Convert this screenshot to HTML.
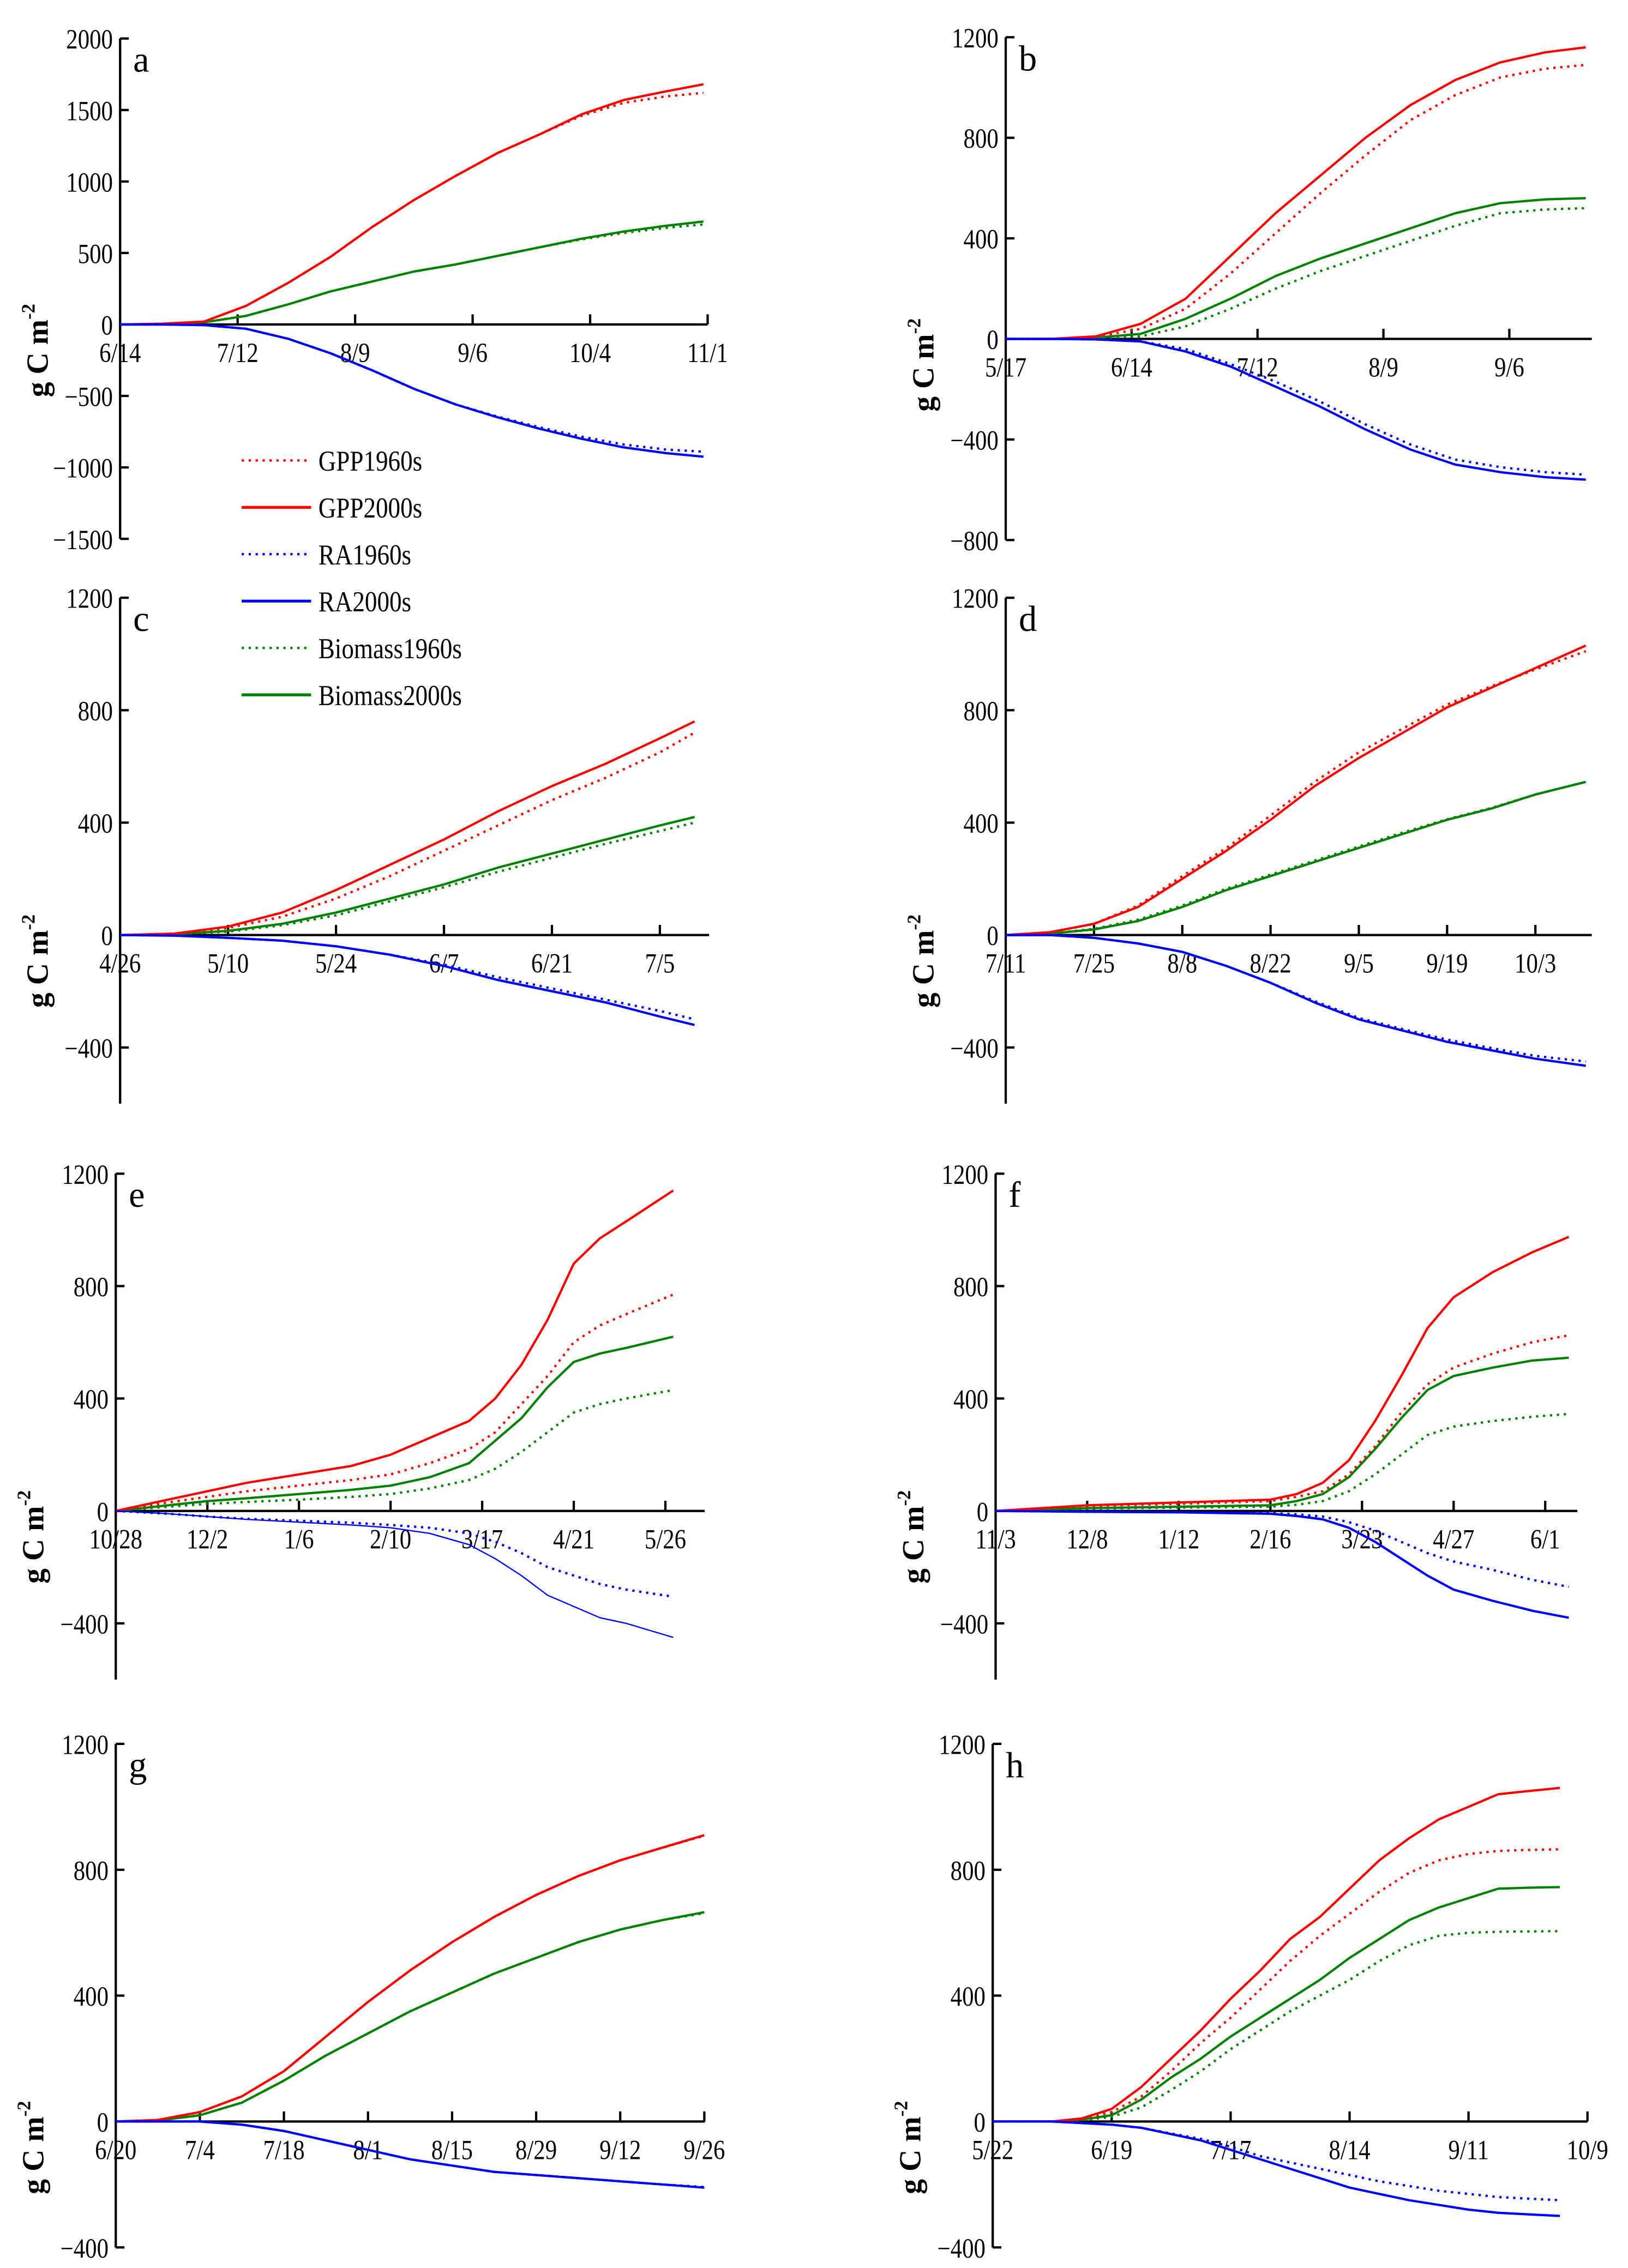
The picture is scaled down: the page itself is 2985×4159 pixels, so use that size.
<!DOCTYPE html>
<html><head><meta charset="utf-8">
<style>
html,body{margin:0;padding:0;background:#fff;}
svg{display:block;}
text{font-family:"Liberation Serif",serif;fill:#000;}
</style></head>
<body>
<svg id="fig" width="2985" height="4159" viewBox="0 0 1125 1567" xmlns="http://www.w3.org/2000/svg"></svg>
<script>
// ---- data (x = days since first date, y = g C m-2) ----
const aX=[0,10,20,30,40,50,60,70,80,90,100,110,120,130,139];
const aGPP2000=[0,5,20,130,290,470,680,870,1040,1200,1330,1470,1570,1630,1680];
const aGPP1960=[0,5,20,130,290,470,680,870,1040,1200,1330,1460,1550,1595,1620];
const aBio2000=[0,3,15,60,140,230,300,370,420,480,540,600,650,690,720];
const aBio1960=[0,3,15,60,140,230,300,370,420,480,540,595,640,675,700];
const aRA2000=[0,0,-5,-30,-100,-200,-320,-450,-560,-650,-730,-800,-860,-900,-925];
const aRA1960=[0,0,-5,-30,-100,-200,-320,-450,-560,-645,-720,-785,-840,-875,-890];

const bX=[0,10,20,30,40,50,60,70,80,90,100,110,120,129];
const bGPP2000=[0,0,10,60,160,330,500,650,800,930,1030,1100,1140,1160];
const bGPP1960=[0,0,8,40,120,260,420,580,730,870,970,1040,1075,1090];
const bBio2000=[0,0,5,20,80,160,250,320,380,440,500,540,555,560];
const bBio1960=[0,0,3,10,50,120,200,270,330,390,450,500,515,520];
const bRA2000=[0,0,-2,-10,-50,-110,-190,-270,-360,-440,-500,-530,-550,-560];
const bRA1960=[0,0,-2,-10,-40,-100,-170,-250,-340,-420,-480,-510,-530,-540];

const cX=[0,7,14,21,28,35,42,49,56,63,70,74.5];
const cGPP2000=[0,5,30,80,160,250,340,440,530,610,700,760];
const cGPP1960=[0,5,25,65,130,210,300,390,480,560,650,720];
const cBio2000=[0,3,15,40,80,130,180,240,290,340,390,420];
const cBio1960=[0,3,12,35,70,120,170,225,275,325,370,400];
const cRA2000=[0,-2,-10,-20,-40,-70,-110,-160,-200,-240,-290,-320];
const cRA1960=[0,-2,-10,-20,-40,-70,-105,-150,-190,-230,-270,-300];

const dX=[0,7,14,21,28,35,42,49,56,63,70,77,84,92];
const dGPP2000=[0,10,40,100,200,300,410,530,630,720,810,880,950,1030];
const dGPP1960=[0,10,40,105,210,310,425,545,650,735,820,885,945,1010];
const dBio2000=[0,5,20,50,100,160,210,260,310,360,410,450,500,545];
const dBio1960=[0,5,22,55,105,165,215,265,315,365,412,452,500,545];
const dRA2000=[0,0,-10,-30,-60,-110,-170,-240,-300,-340,-380,-410,-440,-465];
const dRA1960=[0,0,-10,-30,-60,-110,-170,-235,-295,-335,-372,-402,-430,-450];

const eX=[0,20,35,50,70,90,105,120,135,145,155,165,175,185,195,213];
const eGPP2000=[0,40,70,100,130,160,200,260,320,400,520,680,880,970,1030,1140];
const eGPP1960=[0,30,50,70,90,110,130,170,220,280,380,480,600,660,700,770];
const eBio2000=[0,20,35,45,60,75,90,120,170,250,330,440,530,560,580,620];
const eBio1960=[0,15,25,32,40,50,60,80,110,150,210,280,350,380,400,430];
const eRA2000=[0,-10,-20,-30,-40,-50,-60,-80,-120,-170,-230,-300,-340,-380,-400,-450];
const eRA1960=[0,-10,-20,-28,-35,-42,-50,-60,-80,-110,-150,-200,-230,-260,-280,-305];

const fX=[0,35,70,105,115,125,135,145,155,165,175,190,205,219];
const fGPP2000=[0,20,30,40,60,100,180,320,480,650,760,850,920,975];
const fGPP1960=[0,18,25,35,50,70,130,230,350,450,510,560,600,625];
const fBio2000=[0,10,15,20,35,60,120,220,330,430,480,510,535,545];
const fBio1960=[0,8,12,15,22,35,70,130,200,270,300,320,335,345];
const fRA2000=[0,-3,-5,-10,-18,-30,-60,-110,-170,-230,-280,-320,-355,-380];
const fRA1960=[0,-3,-5,-8,-12,-20,-40,-70,-110,-150,-180,-210,-245,-270];

const gX=[0,7,14,21,28,35,42,49,56,63,70,77,84,91,98];
const gGPP2000=[0,5,30,80,160,270,380,480,570,650,720,780,830,870,910];
const gGPP1960=[0,5,30,80,160,270,380,480,570,650,720,780,830,870,908];
const gBio2000=[0,3,20,60,130,210,280,350,410,470,520,570,610,640,665];
const gBio1960=[0,3,20,60,130,210,280,350,410,470,520,570,610,640,662];
const gRA2000=[0,0,0,-10,-30,-60,-90,-120,-140,-160,-170,-180,-190,-200,-210];
const gRA1960=[0,0,0,-10,-30,-60,-90,-120,-140,-160,-170,-180,-190,-200,-208];

const hX=[0,14,21,28,35,42,49,56,63,70,77,84,91,98,105,112,119,126,133.5];
const hGPP2000=[0,0,10,40,110,200,290,390,480,580,650,740,830,900,960,1000,1040,1050,1060];
const hGPP1960=[0,0,8,30,80,160,250,330,420,510,590,660,730,790,830,850,860,863,865];
const hBio2000=[0,0,6,20,70,140,200,270,330,390,450,520,580,640,680,710,740,743,745];
const hBio1960=[0,0,4,15,45,100,160,230,290,350,400,450,510,560,590,600,603,604,605];
const hRA2000=[0,0,-5,-10,-20,-40,-60,-90,-120,-150,-180,-210,-230,-250,-265,-280,-290,-295,-300];
const hRA1960=[0,0,-5,-10,-20,-38,-55,-80,-110,-130,-150,-170,-190,-205,-220,-230,-240,-245,-250];

const aTicks=['6/14','7/12','8/9','9/6','10/4','11/1'];
const bTicks=['5/17','6/14','7/12','8/9','9/6'];
const cTicks=['4/26','5/10','5/24','6/7','6/21','7/5'];
const dTicks=['7/11','7/25','8/8','8/22','9/5','9/19','10/3'];
const eTicks=['10/28','12/2','1/6','2/10','3/17','4/21','5/26'];
const fTicks=['11/3','12/8','1/12','2/16','3/23','4/27','6/1'];
const gTicks=['6/20','7/4','7/18','8/1','8/15','8/29','9/12','9/26'];
const hTicks=['5/22','6/19','7/17','8/14','9/11','10/9'];

// ---- layout ----
const NS='http://www.w3.org/2000/svg';
const svg=document.getElementById('fig');
function mk(tag,attrs,parent){const e=document.createElementNS(NS,tag);for(const k in attrs)e.setAttribute(k,attrs[k]);(parent||svg).appendChild(e);return e;}

const panels=[
 {id:'a',x0:83,xEnd:489,tickPx:81.2,step:28,ticks:aTicks,yZero:224,yUnit:49.4/500,yMax:2000,yMin:-1500,yStep:500,labMin:-1500,X:aX,S:[aGPP1960,aGPP2000,aRA1960,aRA2000,aBio1960,aBio2000]},
 {id:'b',x0:695,xEnd:1100,tickPx:87,step:28,ticks:bTicks,yZero:234,yUnit:69.5/400,yMax:1200,yMin:-800,yStep:400,labMin:-800,X:bX,S:[bGPP1960,bGPP2000,bRA1960,bRA2000,bBio1960,bBio2000]},
 {id:'c',x0:83,xEnd:490,tickPx:74.6,step:14,ticks:cTicks,yZero:646,yUnit:77.7/400,yMax:1200,yMin:-600,yStep:400,labMin:-400,X:cX,S:[cGPP1960,cGPP2000,cRA1960,cRA2000,cBio1960,cBio2000]},
 {id:'d',x0:695,xEnd:1100,tickPx:61,step:14,ticks:dTicks,yZero:646,yUnit:77.7/400,yMax:1200,yMin:-600,yStep:400,labMin:-400,X:dX,S:[dGPP1960,dGPP2000,dRA1960,dRA2000,dBio1960,dBio2000]},
 {id:'e',x0:80,xEnd:487,tickPx:63.3,step:35,ticks:eTicks,yZero:1044,yUnit:77.7/400,yMax:1200,yMin:-600,yStep:400,labMin:-400,X:eX,S:[eGPP1960,eGPP2000,eRA1960,eRA2000,eBio1960,eBio2000],thinRA:true},
 {id:'f',x0:688,xEnd:1090,tickPx:63.3,step:35,ticks:fTicks,yZero:1044,yUnit:77.7/400,yMax:1200,yMin:-600,yStep:400,labMin:-400,X:fX,S:[fGPP1960,fGPP2000,fRA1960,fRA2000,fBio1960,fBio2000]},
 {id:'g',x0:80,xEnd:487,tickPx:58.1,step:14,ticks:gTicks,yZero:1466,yUnit:87/400,yMax:1200,yMin:-400,yStep:400,labMin:-400,X:gX,S:[gGPP1960,gGPP2000,gRA1960,gRA2000,gBio1960,gBio2000]},
 {id:'h',x0:686,xEnd:1097,tickPx:82.2,step:28,ticks:hTicks,yZero:1466,yUnit:87/400,yMax:1200,yMin:-400,yStep:400,labMin:-400,X:hX,S:[hGPP1960,hGPP2000,hRA1960,hRA2000,hBio1960,hBio2000]}
];
const colors=['#ff0000','#ff0000','#0000ff','#0000ff','#008000','#008000'];
const names=['gpp-1960s','gpp-2000s','ra-1960s','ra-2000s','biomass-1960s','biomass-2000s'];

panels.forEach(p=>{
  const g=mk('g',{});
  
  
  const pxDay=p.tickPx/p.step;
  const xs=d=>p.x0+d*pxDay;
  const ys=v=>p.yZero-v*p.yUnit;
  const ya=mk('line',{x1:p.x0,x2:p.x0,y1:ys(p.yMax),y2:ys(p.yMin),stroke:'#000','stroke-width':1.6},g);
  
  
  const vals=[];
  for(let v=0;v<=p.yMax;v+=p.yStep)vals.push(v);
  for(let v=-p.yStep;v>=p.labMin;v-=p.yStep)vals.push(v);
  vals.forEach(v=>{
    mk('line',{x1:p.x0,x2:p.x0+6,y1:ys(v),y2:ys(v),stroke:'#000','stroke-width':1.6},g);
    const t=mk('text',{x:p.x0-5,y:ys(v)+7,'text-anchor':'end','font-size':19,transform:`translate(${p.x0-5},0) scale(0.85,1) translate(${-(p.x0-5)},0)`},g);
    t.textContent=(v<0?'\u2212'+(-v):v);
    
    
  });
  const xa=mk('line',{x1:p.x0,x2:p.xEnd,y1:p.yZero,y2:p.yZero,stroke:'#000','stroke-width':1.6},g);
  
  
  p.ticks.forEach((lab,i)=>{
    const x=xs(i*p.step);
    if(i>0)mk('line',{x1:x,x2:x,y1:p.yZero,y2:p.yZero-7,stroke:'#000','stroke-width':1.6},g);
    const t=mk('text',{x:x,y:p.yZero+26,'text-anchor':'middle','font-size':19,transform:`translate(${x},0) scale(0.85,1) translate(${-x},0)`},g);
    t.textContent=lab;
    
    
  });
  const L=mk('text',{x:p.x0+9,y:ys(p.yMax)+23,'font-size':25},g);
  L.textContent=p.id;
  
  
  const tx=p.x0-50, ty=p.yZero+18;
  const T=mk('text',{x:tx,y:ty,'font-size':21,'font-weight':'bold','text-anchor':'middle',transform:`rotate(-90 ${tx} ${ty})`},g);
  T.innerHTML='g C m<tspan dy="-9" font-size="13">-2</tspan>';
  
  
  [4,5,0,1,2,3].forEach(si=>{
    const arr=p.S[si];
    const pts=p.X.map((d,i)=>xs(d).toFixed(2)+','+ys(arr[i]).toFixed(2)).join(' ');
    const dotted=si%2===0;
    const w=(p.thinRA&&si===3)?0.9:1.6;
    const pl=mk('polyline',{points:pts,fill:'none',stroke:colors[si],'stroke-width':w,'stroke-dasharray':dotted?'1.6 3.2':'none','stroke-linejoin':'round'},g);
    
    
  });
});

const legLabels=['GPP1960s','GPP2000s','RA1960s','RA2000s','Biomass1960s','Biomass2000s'];
const lg=mk('g',{});


legLabels.forEach((lab,i)=>{
  const y=318+i*32.4;
  const ln=mk('line',{x1:167,x2:215,y1:y,y2:y,stroke:colors[i],'stroke-width':i%2?2:1.6,'stroke-dasharray':i%2?'none':'1.6 3.2'},lg);
  
  
  const t=mk('text',{x:220,y:y+7,'font-size':20,transform:`translate(220,0) scale(0.85,1) translate(-220,0)`},lg);
  t.textContent=lab;
  
  
});
</script>
</body></html>
